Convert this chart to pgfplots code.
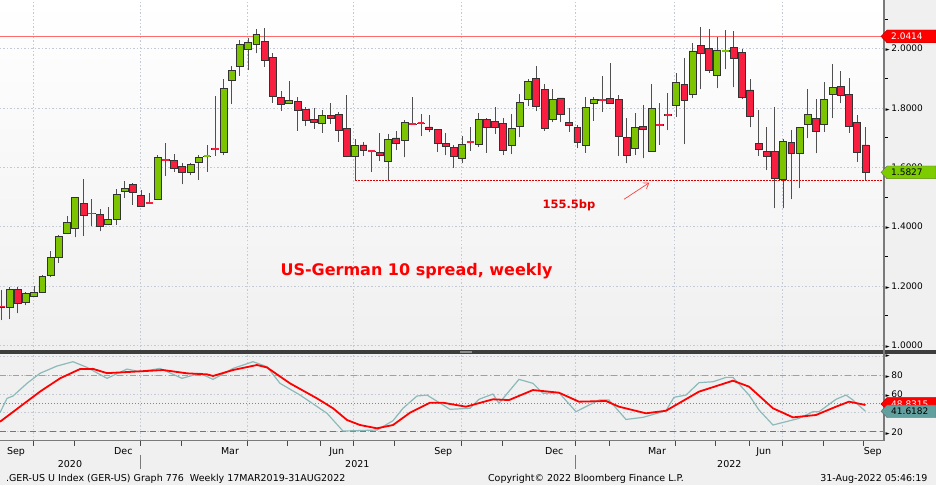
\documentclass[border=0pt]{standalone}
\usepackage{pgfplots}
\pgfplotsset{compat=1.18}
\usepackage{pgfplotstable}
\usepackage{fontspec}
\setmainfont{DejaVu Sans}
\usetikzlibrary{arrows.meta}

\definecolor{bgc}{HTML}{F0F0F0}
\definecolor{candgreen}{HTML}{7CC400}
\definecolor{candred}{HTML}{F81E40}
\definecolor{edgec}{HTML}{333333}
\definecolor{wickc}{HTML}{505050}
\definecolor{gridc}{HTML}{C4C9D6}
\definecolor{axc}{HTML}{7A7A7A}
\definecolor{hiline}{HTML}{FF6A6A}
\definecolor{rsiteal}{HTML}{8CBABA}
\definecolor{ob}{HTML}{F0855A}
\definecolor{midc}{HTML}{4F9C9C}
\definecolor{osc}{HTML}{3E9E3E}
\definecolor{labgreen}{HTML}{7CCC00}
\definecolor{labteal}{HTML}{629F9F}

\newcommand\tri{{\fontsize{5.5}{5.5}\selectfont ►}}

% weekly candles: k = week index from the start of Sep 2020
\pgfplotstableread{
k O H L C
0 1.1322 1.1862 1.0850 1.1289
1 1.1279 1.1974 1.0874 1.1886
2 1.1886 1.1953 1.1076 1.1414
3 1.1434 1.1805 1.1346 1.1751
4 1.1636 1.1997 1.1626 1.1795
5 1.1771 1.2368 1.1761 1.2334
6 1.2358 1.3188 1.2291 1.2965
7 1.2965 1.3707 1.2783 1.3660
8 1.3774 1.4358 1.3751 1.4146
9 1.3943 1.5009 1.3640 1.4989
10 1.4786 1.5596 1.3683 1.4368
11 1.4450 1.4921 1.4021 1.4430
12 1.4415 1.4584 1.3842 1.4021
13 1.4065 1.4672 1.4044 1.4233
14 1.4257 1.5259 1.4065 1.5100
15 1.5178 1.5538 1.4975 1.5279
16 1.5414 1.5461 1.4739 1.5144
17 1.5043 1.5235 1.4672 1.4695
18 1.4820 1.5150 1.4786 1.4800
19 1.4921 1.6415 1.4898 1.6338
20 1.6265 1.6837 1.5724 1.6250
21 1.6223 1.6449 1.5852 1.5953
22 1.6021 1.6156 1.5427 1.5818
23 1.5842 1.6156 1.5741 1.6088
24 1.6179 1.6415 1.5572 1.6338
25 1.6360 1.6753 1.5852 1.6380
26 1.6635 1.8405 1.6382 1.6620
27 1.6493 1.8989 1.6415 1.8651
28 1.8945 1.9417 1.8135 1.9282
29 1.9417 2.0294 1.9080 2.0149
30 1.9980 2.0351 1.9282 2.0216
31 2.0159 2.0665 1.9845 2.0486
32 2.0260 2.0699 1.9393 1.9619
33 1.9710 1.9866 1.8179 1.8395
34 1.8361 1.8564 1.7909 1.8135
35 1.8159 1.8901 1.8135 1.8270
36 1.8213 1.8361 1.7225 1.7909
37 1.7957 1.8024 1.7393 1.7572
38 1.7623 1.7994 1.7309 1.7518
39 1.7484 1.7933 1.7167 1.7754
40 1.7754 1.8179 1.7461 1.7663
41 1.7798 1.7866 1.6854 1.7248
42 1.7302 1.8429 1.6338 1.6358
43 1.6358 1.6965 1.5549 1.6743
44 1.6753 1.6854 1.6382 1.6560
45 1.6550 1.6560 1.5852 1.6530
46 1.6506 1.7147 1.6223 1.6415
47 1.6189 1.7124 1.5572 1.6931
48 1.6989 1.7235 1.6584 1.6810
49 1.6921 1.7596 1.6338 1.7505
50 1.7460 1.8382 1.7440 1.7440
51 1.7490 1.7798 1.7056 1.7475
52 1.7360 1.7775 1.7191 1.7282
53 1.7282 1.7302 1.6517 1.6810
54 1.6820 1.7147 1.6405 1.6719
55 1.6675 1.6763 1.5977 1.6382
56 1.6290 1.7056 1.6135 1.6763
57 1.6860 1.7350 1.6560 1.6845
58 1.6786 1.7822 1.6700 1.7629
59 1.7629 1.7650 1.6493 1.7360
60 1.7538 1.8024 1.7124 1.7360
61 1.7484 1.7653 1.6415 1.6560
62 1.6753 1.7798 1.6449 1.7316
63 1.7393 1.8473 1.7012 1.8193
64 1.8294 1.8968 1.8068 1.8888
65 1.9002 1.9417 1.7899 1.8068
66 1.8631 1.8810 1.7235 1.7316
67 1.7619 1.8631 1.7528 1.8294
68 1.8338 1.8338 1.7528 1.7788
69 1.7518 1.7990 1.7201 1.7417
70 1.7336 1.7427 1.6641 1.6830
71 1.6753 1.8361 1.6493 1.8024
72 1.8159 1.8361 1.7572 1.8294
73 1.8280 1.9080 1.7876 1.8265
74 1.8328 1.9508 1.8159 1.8159
75 1.8304 1.8439 1.6382 1.7033
76 1.6999 1.7653 1.6135 1.6405
77 1.6628 1.7822 1.6415 1.7350
78 1.7370 1.8102 1.6304 1.7282
79 1.6527 1.8810 1.6527 1.7990
80 1.7445 1.8179 1.6753 1.7430
81 1.7770 1.8517 1.7258 1.7755
82 1.8092 1.9191 1.7707 1.8854
83 1.8800 1.9677 1.6786 1.8270
84 1.8449 2.0203 1.8328 1.9923
85 2.0115 2.0742 1.8631 1.9845
86 2.0000 2.0675 1.9191 1.9258
87 1.9113 2.0405 1.8665 1.9957
88 1.9915 2.0631 1.9306 1.9930
89 2.0048 2.0608 1.8699 1.9687
90 1.9889 1.9980 1.8294 1.8361
91 1.8608 1.8968 1.7350 1.7731
92 1.6810 1.7933 1.6382 1.6608
93 1.6550 1.7370 1.5909 1.6382
94 1.6527 1.8024 1.4618 1.5630
95 1.5606 1.6945 1.4618 1.6864
96 1.6830 1.7258 1.4921 1.6473
97 1.6473 1.7370 1.5292 1.7336
98 1.7461 1.8631 1.6979 1.7788
99 1.7653 1.8294 1.6473 1.7201
100 1.7461 1.8888 1.7201 1.8304
101 1.8449 1.9484 1.7653 1.8699
102 1.8719 1.9258 1.8159 1.8429
103 1.8463 1.9002 1.7167 1.7393
104 1.7505 1.7764 1.6189 1.6517
105 1.6753 1.7370 1.5572 1.5827
}\candles

% doji weeks (open ~ close), drawn as coloured dashes
\pgfplotstableread{
k v
0 1.1305
11 1.4440
18 1.4810
20 1.6257
26 1.6628
45 1.6540
50 1.7451
51 1.7484
57 1.6854
73 1.8270
80 1.7437
81 1.7764
}\rdoji
\pgfplotstableread{
k v
25 1.6371
88 1.9923
}\gdoji

% lower panel: RSI (teal) and its smoothed line (red)
\pgfplotstableread{
k v
-0.15 40.1
0.70 55.3
1.43 57.8
3.13 71.2
4.71 81.8
6.77 89.5
8.72 94.1
10.42 88.1
12.85 76.5
15.28 86.3
16.86 83.5
19.29 87.0
21.96 76.5
24.15 81.8
25.73 75.4
28.16 87.0
30.59 94.1
32.29 88.8
33.87 71.2
36.30 58.8
39.58 39.5
41.52 20.7
45.65 21.8
47.60 31.7
48.81 44.8
50.51 57.8
51.73 58.8
54.52 43.7
56.95 44.8
58.04 54.3
59.74 59.9
60.47 50.0
62.90 75.4
64.60 71.2
65.82 60.6
67.76 61.3
69.83 41.2
72.62 53.5
73.84 53.5
75.90 33.0
77.97 35.2
80.76 42.2
81.73 56.4
83.19 58.8
84.77 71.9
86.47 72.9
88.05 77.5
88.90 77.5
90.85 58.8
92.06 43.0
93.76 27.1
95.34 30.6
96.92 34.1
98.62 41.2
99.35 41.2
101.42 54.3
102.63 58.8
103.48 53.5
105.00 41.6
}\rsi
\pgfplotstableread{
k v
-0.15 30.6
2.28 46.5
4.71 62.4
7.14 76.5
9.57 86.3
11.15 86.5
12.85 82.0
16.01 83.5
19.65 85.3
22.57 81.8
25.00 80.7
25.73 79.0
28.16 85.3
31.07 90.6
32.29 88.0
35.08 71.2
38.36 55.3
40.31 44.8
42.01 32.4
43.59 27.1
45.65 23.6
47.60 27.1
49.66 40.1
52.09 50.7
53.67 50.7
56.46 46.5
59.74 54.3
61.69 53.5
64.60 64.1
67.76 61.3
70.19 51.8
73.47 52.5
75.05 46.5
78.33 39.5
80.76 42.2
84.77 62.4
88.90 74.0
90.85 67.7
93.76 44.8
96.19 35.2
98.99 37.7
101.42 46.5
103.00 51.8
105.00 48.3
}\sig

\pgfplotsset{
  /pgf/number format/assume math mode=true,
  toppanel/.style={at={(0pt,135pt)}, anchor=south west, scale only axis,
    width=884pt, height=350pt, xmin=-0.15, xmax=107.25, ymin=0.9839, ymax=2.1643},
  lowpanel/.style={at={(0pt,44.3pt)}, anchor=south west, scale only axis,
    width=884pt, height=87.7pt, xmin=-0.15, xmax=107.25, ymin=10.5, ymax=103.3},
  vgrid/.style={gridc, line width=0.8pt, dash pattern=on 1.5pt off 2pt},
}

\begin{document}
\begin{tikzpicture}
\fill[bgc] (0,0) rectangle (936pt,485pt);

% top panel: background, grid, levels, wicks
\begin{axis}[toppanel,
  axis background/.style={top color=white, bottom color=bgc},
  axis line style={draw=none},
  xtick={3.86,16.86,29.86,42.74,55.86,69.77,81.74,94.86}, xticklabels={},
  xmajorgrids, ymajorgrids, grid style={vgrid},
  ytick={1.0,1.2,1.4,1.6,1.8,2.0}, minor ytick={1.1,1.3,1.5,1.7,1.9,2.1},
  xtick pos=bottom, ytick pos=right, tick align=outside,
  major tick length=0pt, minor tick length=3.5pt,
  minor tick style={black, line width=0.8pt},
  yticklabel pos=right,
  yticklabel style={anchor=west, inner sep=0pt, xshift=1.5pt, font=\fontsize{9}{9}\selectfont},
  yticklabel={\tri\,\pgfmathprintnumber[fixed, fixed zerofill, precision=4]{\tick}},
]
\addplot[hiline, line width=1pt] coordinates {(-0.15,2.0414) (107.25,2.0414)};
\addplot[red!85!black, line width=0.7pt, dash pattern=on 1.5pt off 1.5pt]
  coordinates {(43,1.555) (107.25,1.555)};
\addplot[only marks, mark size=0pt, mark options={draw=none, fill=none}, wickc,
  error bars/.cd, y dir=plus, y explicit, error mark=none,
  error bar style={line width=1pt, wickc}]
  table[x=k, y=L, y error expr={\thisrow{H}-\thisrow{L}}] {\candles};
\node[anchor=base, text=red, font=\bfseries\fontsize{16}{16}\selectfont]
  at (axis cs:50.45,1.2368) {US-German 10 spread, weekly};
\node[anchor=base, text=red!90!black, font=\bfseries\fontsize{11.5}{11.5}\selectfont]
  at (axis cs:68.98,1.4611) {155.5bp};
\draw[-{Straight Barb[length=5pt,width=7pt]}, red!75, line width=0.7pt]
  (axis cs:75.66,1.4921) -- (axis cs:78.73,1.5481);
\end{axis}

% candle bodies
\begin{axis}[toppanel, hide axis, ybar stacked, bar width=0.84]
\addplot[draw=none, fill=none] table[x=k, y expr={min(\thisrow{O},\thisrow{C})}] {\candles};
\addplot[draw=edgec, fill=candgreen, line width=0.8pt]
  table[x=k, y expr={max(\thisrow{C}-\thisrow{O},0)}] {\candles};
\addplot[draw=edgec, fill=candred, line width=0.8pt]
  table[x=k, y expr={max(\thisrow{O}-\thisrow{C},0)}] {\candles};
\end{axis}

% doji dashes
\begin{axis}[toppanel, hide axis]
\addplot[only marks, mark=-, mark size=3.4pt, candred, mark options={line width=1.8pt}]
  table[x=k, y=v] {\rdoji};
\addplot[only marks, mark=-, mark size=3.4pt, candgreen, mark options={line width=1.8pt}]
  table[x=k, y=v] {\gdoji};
\end{axis}

% lower panel
\begin{axis}[lowpanel,
  axis background/.style={fill=bgc},
  axis line style={draw=none},
  xtick={1.79,14.83,27.79,40.76,53.71,67.19,79.67,92.63,105.88},
  xticklabels={Sep,Dec,Mar,Jun,Sep,Dec,Mar,Jun,Sep},
  minor xtick={3.85,8.84,16.86,21.84,29.86,34.72,38.73,42.74,47.72,55.86,60.84,69.77,73.84,81.86,86.72,90.85,94.86,99.84,104.70},
  extra x ticks={3.86,16.86,29.86,42.74,55.86,69.77,81.74,94.86},
  extra x tick labels={},
  extra x tick style={grid=major},
  ytick={20,40,60,80,100},
  yticklabels={\tri\,20,\tri\,40,\tri\,60,\tri\,80,\tri},
  ymajorgrids, grid style={vgrid},
  xtick pos=bottom, ytick pos=right, tick align=outside,
  major tick length=0pt, minor tick length=5pt,
  minor tick style={axc!60!black, line width=0.8pt},
  yticklabel pos=right,
  yticklabel style={anchor=west, inner sep=0pt, xshift=1.5pt, font=\fontsize{9}{9}\selectfont},
  xticklabel style={anchor=base, yshift=-13.3pt, font=\fontsize{9.5}{9.5}\selectfont},
]
\addplot[ob, line width=0.8pt, dash pattern=on 6pt off 3pt on 1pt off 3pt]
  coordinates {(-0.15,80) (107.25,80)};
\addplot[midc, line width=0.8pt, dash pattern=on 1pt off 2pt]
  coordinates {(-0.15,50) (107.25,50)};
\addplot[osc, line width=1pt, dash pattern=on 6pt off 4pt]
  coordinates {(-0.15,20) (107.25,20)};
\addplot[rsiteal, line width=1.2pt] table[x=k, y=v] {\rsi};
\addplot[red, line width=1.8pt] table[x=k, y=v] {\sig};
\end{axis}

% frame, separator, year row
\fill[black!76] (0,131.5pt) rectangle (936pt,135.5pt);
\fill[black!45] (460pt,132.5pt) rectangle (472pt,134.5pt);
\draw[axc, line width=1.3pt] (884pt,44.3pt) -- (884pt,485pt);
\draw[axc, line width=1.3pt] (0,44.3pt) -- (884pt,44.3pt);
\draw[axc, line width=0.8pt] (140pt,30pt) -- (140pt,16pt);
\draw[axc, line width=0.8pt] (575.5pt,30pt) -- (575.5pt,16pt);
\node[anchor=base, font=\fontsize{9.5}{9.5}\selectfont] at (70pt,17.7pt) {2020};
\node[anchor=base, font=\fontsize{9.5}{9.5}\selectfont] at (357.3pt,17.7pt) {2021};
\node[anchor=base, font=\fontsize{9.5}{9.5}\selectfont] at (729.3pt,17.7pt) {2022};

% last-value tags
\begin{scope}[yshift=448.6pt]
\fill[red, draw=red!70!black, line width=0.4pt] (881pt,0) -- (887pt,6.4pt) -- (936pt,6.4pt) -- (936pt,-6.4pt) -- (887pt,-6.4pt) -- cycle;
\node[anchor=west, inner sep=0pt, text=white, font=\fontsize{9}{9}\selectfont] at (891pt,0) {2.0414};
\end{scope}
\begin{scope}[yshift=312.6pt]
\fill[labgreen, draw=black!60, line width=0.4pt] (881pt,0) -- (887pt,6.4pt) -- (936pt,6.4pt) -- (936pt,-6.4pt) -- (887pt,-6.4pt) -- cycle;
\node[anchor=west, inner sep=0pt, text=black, font=\fontsize{9}{9}\selectfont] at (891pt,0) {1.5827};
\end{scope}
\begin{scope}[yshift=81pt]
\fill[red, draw=red!70!black, line width=0.4pt] (881pt,0) -- (887pt,6.4pt) -- (936pt,6.4pt) -- (936pt,-6.4pt) -- (887pt,-6.4pt) -- cycle;
\node[anchor=west, inner sep=0pt, text=white, font=\fontsize{9}{9}\selectfont] at (891pt,0) {48.8315};
\end{scope}
\begin{scope}[yshift=73.7pt]
\fill[labteal, draw=black!60, line width=0.4pt] (881pt,0) -- (887pt,6.2pt) -- (936pt,6.2pt) -- (936pt,-6.2pt) -- (887pt,-6.2pt) -- cycle;
\node[anchor=west, inner sep=0pt, text=black, font=\fontsize{9}{9}\selectfont] at (891pt,0) {41.6182};
\end{scope}

% footer
\node[anchor=base west, font=\fontsize{9.5}{9.5}\selectfont] at (2.5pt,3.3pt)
  {.GER-US U Index (GER-US) Graph 776\ \ Weekly 17MAR2019-31AUG2022};
\node[anchor=base, font=\fontsize{9.5}{9.5}\selectfont] at (586pt,3.3pt)
  {Copyright© 2022 Bloomberg Finance L.P.};
\node[anchor=base east, font=\fontsize{9.5}{9.5}\selectfont] at (931pt,3.3pt)
  {31-Aug-2022 05:46:19};

\pgfresetboundingbox
\useasboundingbox (0,0) rectangle (936pt,485pt);
\end{tikzpicture}
\end{document}
